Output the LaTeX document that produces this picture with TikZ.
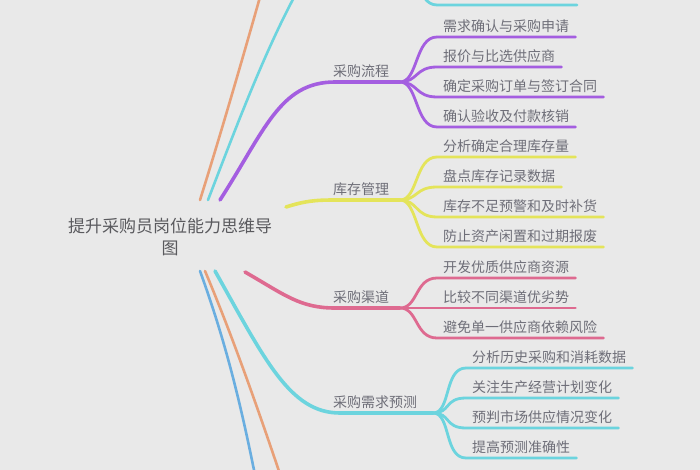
\documentclass[tikz,border=0pt]{standalone}
\usepackage{fontspec}
\newfontfamily\cjk{Noto Sans CJK SC}
\definecolor{bgcol}{HTML}{E9E9E9}
\definecolor{txtcol}{HTML}{6E6E78}
\definecolor{rootcol}{HTML}{5A5A5E}
\definecolor{mpurple}{HTML}{A45EE0}
\definecolor{myellow}{HTML}{E4E45A}
\definecolor{mpink}{HTML}{DE6A90}
\definecolor{mcyan}{HTML}{6CD4DE}
\definecolor{morange}{HTML}{E8A078}
\definecolor{mblue}{HTML}{6AAEE0}
\begin{document}
\begin{tikzpicture}[
  x=1pt, y=-1pt,
  rootnode/.style={font=\cjk\fontsize{17}{22}\selectfont, text=rootcol, align=center},
  branchnode/.style={font=\cjk\fontsize{14}{16}\selectfont, text=txtcol,
    anchor=south west, inner xsep=6pt, inner ysep=4.5pt},
  leafnode/.style={font=\cjk\fontsize{14}{16}\selectfont, text=txtcol,
    anchor=south west, inner xsep=6pt, inner ysep=4.5pt},
  limb/.style={#1, line width=3.6pt, line cap=round},
  twig/.style={#1, line width=2.8pt, line cap=round},
  twig/.default=gray
]
\fill[bgcol] (0,0) rectangle (700,470);
\useasboundingbox (0,0) rectangle (700,470);
\clip (0,0) rectangle (700,470);

% Root
\node[rootnode] (root) at (170,237) {提升采购员岗位能力思维导\\图};

% Start points next to the root
\coordinate (sorange) at (200,200);
\coordinate (scyanup) at (208,200);
\coordinate (spurple) at (220,200);
\coordinate (syellow) at (286,207);
\coordinate (spink) at (245,272);
\coordinate (scyan) at (215,271);
\coordinate (sblue) at (200,271);
\coordinate (sorangedn) at (205,271);

% Branch points
\coordinate (procfork) at (400,82);
\coordinate (stockfork) at (400,200);
\coordinate (chanfork) at (400,308);
\coordinate (predfork) at (433,413);
\coordinate (topfork) at (400,-40);

% Branch labels
\node[branchnode] (proc) at (327,82) {采购流程};
\node[branchnode] (stock) at (327,200) {库存管理};
\node[branchnode] (chan) at (327,308) {采购渠道};
\node[branchnode] (pred) at (327,413) {采购需求预测};

% Leaves: 采购流程
\node[leafnode] (proc1) at (437,37) {需求确认与采购申请};
\node[leafnode] (proc2) at (437,67) {报价与比选供应商};
\node[leafnode] (proc3) at (437,97) {确定采购订单与签订合同};
\node[leafnode] (proc4) at (437,127) {确认验收及付款核销};

% Leaves: 库存管理
\node[leafnode] (stock1) at (437,157) {分析确定合理库存量};
\node[leafnode] (stock2) at (437,187) {盘点库存记录数据};
\node[leafnode] (stock3) at (437,217) {库存不足预警和及时补货};
\node[leafnode] (stock4) at (437,247) {防止资产闲置和过期报废};

% Leaves: 采购渠道
\node[leafnode] (chan1) at (437,278) {开发优质供应商资源};
\node[leafnode] (chan2) at (437,308) {比较不同渠道优劣势};
\node[leafnode] (chan3) at (437,338) {避免单一供应商依赖风险};

% Leaves: 采购需求预测
\node[leafnode] (pred1) at (466,368) {分析历史采购和消耗数据};
\node[leafnode] (pred2) at (466,398) {关注生产经营计划变化};
\node[leafnode] (pred3) at (466,428) {预判市场供应情况变化};
\node[leafnode] (pred4) at (466,458) {提高预测准确性};

% Cut-off leaf at the top
\coordinate (topleafa) at (437,5);
\coordinate (topleafb) at (577,5);

% Main limbs
\draw[limb=morange, line width=2.6pt] (sorange) .. controls (222,130) and (245,50) .. (262,-10);
\draw[limb=mcyan, line width=2.6pt] (scyanup) .. controls (235,130) and (265,50) .. (298,-10);
\draw[limb=mpurple] (spurple) .. controls (265,130) and (280,82) .. (335,82) -- (procfork);
\draw[limb=myellow] (syellow) .. controls (305,201) and (315,200) .. (335,200) -- (stockfork);
\draw[limb=mpink] (spink) .. controls (285,295) and (300,308) .. (335,308) -- (chanfork);
\draw[limb=mcyan] (scyan) .. controls (265,360) and (290,413) .. (340,413) -- (predfork);
\draw[limb=mblue, line width=2.6pt] (sblue) .. controls (225,340) and (240,400) .. (256,480);
\draw[limb=morange, line width=2.6pt] (sorangedn) .. controls (230,330) and (255,400) .. (282,480);

% Twigs: 采购流程
\foreach \n in {proc1,proc2,proc3,proc4}
  \draw[twig=mpurple] (procfork) .. controls +(18,0) and +(-22,0) .. (\n.south west) -- (\n.south east);

% Twigs: 库存管理
\foreach \n in {stock1,stock2,stock3,stock4}
  \draw[twig=myellow] (stockfork) .. controls +(18,0) and +(-22,0) .. (\n.south west) -- (\n.south east);

% Twigs: 采购渠道
\foreach \n in {chan1,chan2,chan3}
  \draw[twig=mpink] (chanfork) .. controls +(18,0) and +(-22,0) .. (\n.south west) -- (\n.south east);

% Twigs: 采购需求预测
\foreach \n in {pred1,pred2,pred3,pred4}
  \draw[twig=mcyan] (predfork) .. controls +(18,0) and +(-22,0) .. (\n.south west) -- (\n.south east);

% Twig at the top edge
\draw[twig=mcyan] (topfork) .. controls +(18,0) and +(-22,0) .. (topleafa) -- (topleafb);

\end{tikzpicture}
\end{document}
